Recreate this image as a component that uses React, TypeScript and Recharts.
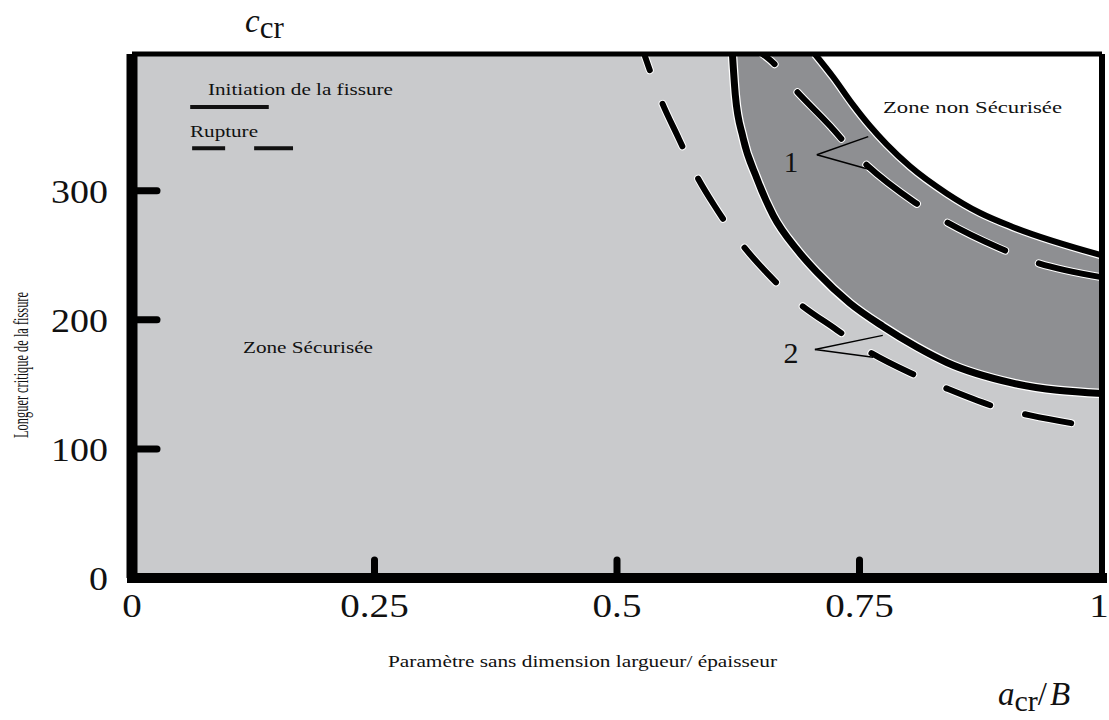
import React from "react";
import {
  ComposedChart,
  Line,
  Area,
  XAxis,
  YAxis,
  CartesianGrid,
  ReferenceLine,
} from "recharts";

const SERIF = "'Liberation Serif', 'Times New Roman', serif";

// axis ranges and ticks
const Y_MAX = 406;
const X_TICKS = [0, 0.25, 0.5, 0.75, 1];
const Y_TICKS = [0, 100, 200, 300];

// curve 1 (outer) - initiation, solid line bounding the unsafe zone
const initiation1 = [
  { x: 0.704, y: 406 },
  { x: 0.723, y: 388 },
  { x: 0.743, y: 367 },
  { x: 0.761, y: 350 },
  { x: 0.778, y: 336 },
  { x: 0.802, y: 319 },
  { x: 0.84, y: 298 },
  { x: 0.874, y: 283 },
  { x: 0.908, y: 272 },
  { x: 1.0, y: 250 },
];

// curve 1 - rupture, dashed line inside the dark band
const rupture1 = [
  { x: 0.65, y: 406 },
  { x: 0.665, y: 396 },
  { x: 0.673, y: 388 },
  { x: 0.72, y: 350 },
  { x: 0.745, y: 329 },
  { x: 0.807, y: 291 },
  { x: 0.83, y: 280 },
  { x: 0.893, y: 256 },
  { x: 0.926, y: 246 },
  { x: 1.0, y: 233 },
];

// curve 2 (inner) - initiation, solid line
const initiation2 = [
  { x: 0.619, y: 406 },
  { x: 0.622, y: 374 },
  { x: 0.63, y: 341 },
  { x: 0.644, y: 310 },
  { x: 0.661, y: 281 },
  { x: 0.686, y: 254 },
  { x: 0.706, y: 237 },
  { x: 0.74, y: 213 },
  { x: 0.774, y: 195 },
  { x: 0.809, y: 179 },
  { x: 0.84, y: 167 },
  { x: 0.908, y: 151 },
  { x: 1.0, y: 143 },
];

// curve 2 - rupture, dashed line in the safe zone
const rupture2 = [
  { x: 0.528, y: 406 },
  { x: 0.545, y: 371 },
  { x: 0.564, y: 340 },
  { x: 0.579, y: 316 },
  { x: 0.6, y: 289 },
  { x: 0.625, y: 262 },
  { x: 0.655, y: 236 },
  { x: 0.681, y: 217 },
  { x: 0.727, y: 192 },
  { x: 0.754, y: 178 },
  { x: 0.802, y: 159 },
  { x: 0.836, y: 148 },
  { x: 0.902, y: 130 },
  { x: 0.926, y: 126 },
  { x: 1.0, y: 116 },
];

// callout "1" and "2": apex, then the two curves they point at
const pointer1 = [
  { x: 0.706, y: 328 },
  { x: 0.759, y: 342 },
  { x: 0.763, y: 316 },
];
const pointer2 = [
  { x: 0.704, y: 177 },
  { x: 0.774, y: 188 },
  { x: 0.764, y: 171 },
];

// legend samples drawn inside the plot
const legendSolid = [
  { x: 0.06, y: 365 },
  { x: 0.141, y: 365 },
];
const legendDashed = [
  { x: 0.062, y: 333 },
  { x: 0.166, y: 333 },
];

const XTick = ({ x, y, payload }: any) => {
  const v = payload.value;
  const lx = v === 1 ? x - 3 : x;
  return (
    <g>
      {v > 0 && v < 1 && (
        <line x1={x} x2={x} y1={y - 4} y2={y - 18} stroke="#000" strokeWidth={7} strokeLinecap="round" />
      )}
      <text
        transform={`translate(${lx},${y + 39}) scale(1.15,1)`}
        textAnchor="middle"
        fontFamily={SERIF}
        fontSize={34}
        fill="#111"
      >
        {String(v)}
      </text>
    </g>
  );
};

const YTick = ({ x, y, payload }: any) => {
  const v = payload.value;
  return (
    <g>
      {v > 0 && (
        <line x1={x + 4} x2={x + 25} y1={y} y2={y} stroke="#000" strokeWidth={7} strokeLinecap="round" />
      )}
      <text
        transform={`translate(${x - 24},${y + 12}) scale(1.15,1)`}
        textAnchor="end"
        fontFamily={SERIF}
        fontSize={33}
        fill="#111"
      >
        {v}
      </text>
    </g>
  );
};

const App = () => {
  return (
    <div style={{ position: "absolute", left: 0, top: 0, width: 1109, height: 720, background: "#fff" }}>
      <ComposedChart width={1109} height={720} margin={{ top: 53, right: 6, bottom: 141, left: 131 }}>
        <CartesianGrid horizontal={false} vertical={false} fill="#c9cacc" />
        <XAxis
          type="number"
          dataKey="x"
          domain={[0, 1]}
          ticks={X_TICKS}
          interval={0}
          height={1}
          tickSize={0}
          tickMargin={0}
          tickLine={false}
          tick={<XTick />}
          axisLine={{ stroke: "#000", strokeWidth: 10, strokeLinecap: "square" }}
          allowDataOverflow
        />
        <XAxis
          xAxisId="top"
          orientation="top"
          type="number"
          domain={[0, 1]}
          ticks={X_TICKS}
          height={1}
          tick={false}
          tickLine={false}
          axisLine={{ stroke: "#000", strokeWidth: 5 }}
        />
        <YAxis
          type="number"
          dataKey="y"
          domain={[0, Y_MAX]}
          ticks={Y_TICKS}
          interval={0}
          width={1}
          tickSize={0}
          tickMargin={0}
          tickLine={false}
          tick={<YTick />}
          axisLine={{ stroke: "#000", strokeWidth: 11 }}
          allowDataOverflow
        />
        <YAxis
          yAxisId="right"
          orientation="right"
          type="number"
          domain={[0, Y_MAX]}
          ticks={Y_TICKS}
          width={1}
          tick={false}
          tickLine={false}
          axisLine={{ stroke: "#000", strokeWidth: 6 }}
        />

        {/* dark band: everything above curve 2 initiation */}
        <Area
          data={initiation2}
          dataKey="y"
          type="monotone"
          baseValue={Y_MAX}
          fill="#8e8f92"
          fillOpacity={1}
          stroke="none"
          isAnimationActive={false}
        />
        {/* unsafe zone: above curve 1 initiation */}
        <Area
          data={initiation1}
          dataKey="y"
          type="monotone"
          baseValue={Y_MAX}
          fill="#ffffff"
          fillOpacity={1}
          stroke="none"
          isAnimationActive={false}
        />

        {/* rupture curves (dashed) with a thin white edge */}
        <Line data={rupture2} dataKey="y" type="monotone" stroke="#fff" strokeWidth={8} strokeDasharray="47 36" strokeDashoffset={30} strokeLinecap="round" dot={false} activeDot={false} isAnimationActive={false} />
        <Line data={rupture2} dataKey="y" type="monotone" stroke="#000" strokeWidth={6} strokeDasharray="47 36" strokeDashoffset={30} strokeLinecap="round" dot={false} activeDot={false} isAnimationActive={false} />
        <Line data={rupture1} dataKey="y" type="monotone" stroke="#fff" strokeWidth={8} strokeDasharray="64 36" strokeDashoffset={48} strokeLinecap="round" dot={false} activeDot={false} isAnimationActive={false} />
        <Line data={rupture1} dataKey="y" type="monotone" stroke="#000" strokeWidth={6} strokeDasharray="64 36" strokeDashoffset={48} strokeLinecap="round" dot={false} activeDot={false} isAnimationActive={false} />

        {/* initiation curves (solid) */}
        <Line data={initiation2} dataKey="y" type="monotone" stroke="#fff" strokeWidth={9.5} dot={false} activeDot={false} isAnimationActive={false} />
        <Line data={initiation2} dataKey="y" type="monotone" stroke="#000" strokeWidth={7} dot={false} activeDot={false} isAnimationActive={false} />
        <Line data={initiation1} dataKey="y" type="monotone" stroke="#fff" strokeWidth={8.5} dot={false} activeDot={false} isAnimationActive={false} />
        <Line data={initiation1} dataKey="y" type="monotone" stroke="#000" strokeWidth={6} dot={false} activeDot={false} isAnimationActive={false} />

        {/* callouts */}
        <ReferenceLine segment={[pointer1[0], pointer1[1]]} stroke="#000" strokeWidth={1.5} zIndex={700} />
        <ReferenceLine segment={[pointer1[0], pointer1[2]]} stroke="#000" strokeWidth={1.5} zIndex={700} />
        <ReferenceLine segment={[pointer2[0], pointer2[1]]} stroke="#000" strokeWidth={1.5} zIndex={700} />
        <ReferenceLine segment={[pointer2[0], pointer2[2]]} stroke="#000" strokeWidth={1.5} zIndex={700} />

        {/* legend samples */}
        <ReferenceLine segment={legendSolid} stroke="#111" strokeWidth={4} zIndex={700} />
        <ReferenceLine segment={legendDashed} stroke="#111" strokeWidth={4} strokeDasharray="33 29 45" zIndex={700} />
      </ComposedChart>

      <svg
        width={1109}
        height={720}
        style={{ position: "absolute", left: 0, top: 0, pointerEvents: "none" }}
        fontFamily={SERIF}
        fill="#111"
      >
        <text x={245} y={32} fontSize={33}>
          <tspan fontStyle="italic">c</tspan>
          <tspan dy={6} fontSize={31}>cr</tspan>
        </text>
        <text x={998} y={705} fontSize={33}>
          <tspan fontStyle="italic">a</tspan>
          <tspan dy={6} fontSize={30}>cr</tspan>
          <tspan dy={-6}>/</tspan>
          <tspan fontStyle="italic" dx={3}>B</tspan>
        </text>
        <text transform="translate(28,365) rotate(-90)" textAnchor="middle" fontSize={20} textLength={146} lengthAdjust="spacingAndGlyphs">
          Longuer critique de la fissure
        </text>
        <text x={388} y={667} fontSize={17} textLength={389} lengthAdjust="spacingAndGlyphs">
          Paramètre sans dimension largueur/ épaisseur
        </text>
        <text x={208} y={95} fontSize={16} textLength={185} lengthAdjust="spacingAndGlyphs">
          Initiation de la fissure
        </text>
        <text x={190} y={137} fontSize={16} textLength={68} lengthAdjust="spacingAndGlyphs">
          Rupture
        </text>
        <text x={243} y={353} fontSize={16} textLength={130} lengthAdjust="spacingAndGlyphs">
          Zone Sécurisée
        </text>
        <text x={883} y={113} fontSize={17} textLength={179} lengthAdjust="spacingAndGlyphs">
          Zone non Sécurisée
        </text>
        <text x={791} y={172} fontSize={29} textAnchor="middle">1</text>
        <text x={791} y={363} fontSize={30} textAnchor="middle">2</text>
      </svg>
    </div>
  );
};

export default App;
